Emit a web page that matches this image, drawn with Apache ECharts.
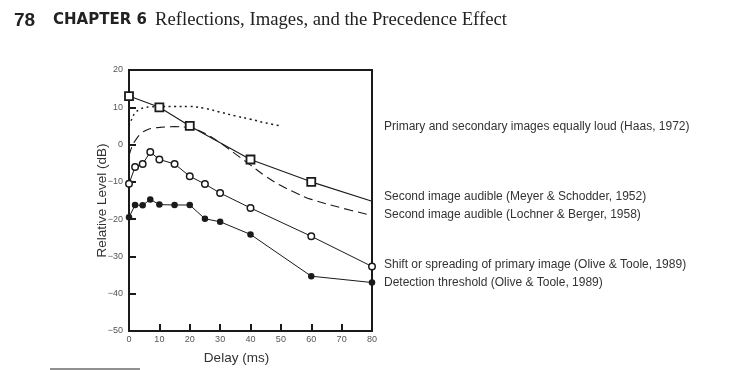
<!DOCTYPE html>
<html>
<head>
<meta charset="utf-8">
<script src="https://cdn.jsdelivr.net/npm/echarts@6/dist/echarts.min.js"></script>
<style>html,body{margin:0;padding:0;background:#fff}#c{width:753px;height:370px}</style>
</head>
<body>
<div id="c"></div>
<script>
// Delay (ms) and relative level (dB)
const squareX = [0, 10, 20, 40, 60, 80];
const squareY = [13, 10, 5, -4, -10, -15.2];
const dottedX = [0, 1, 2, 3.5, 5, 7, 10, 15, 20, 25, 30, 35, 40, 45, 50];
const dottedY = [5, 7, 8.5, 9.4, 9.9, 10.1, 10.2, 10.2, 10.2, 9.7, 8.7, 7.7, 6.8, 5.8, 5];
const dashedX = [0, 1, 2, 4, 6, 8, 10, 15, 20, 25, 30, 35, 40, 45, 50, 55, 60, 70, 80];
const dashedY = [-3, -0.5, 1, 3, 4, 4.4, 4.6, 4.8, 4.5, 3, 0.5, -2.5, -5.5, -8.5, -11, -13, -14.7, -17, -19];
const openX = [0, 2, 4.5, 7, 10, 15, 20, 25, 30, 40, 60, 80];
const openY = [-10.5, -6, -5.2, -2, -4, -5.2, -8.5, -10.6, -13, -17, -24.6, -32.7];
const filledX = [0, 2, 4.5, 7, 10, 15, 20, 25, 30, 40, 60, 80];
const filledY = [-19.5, -16.2, -16.3, -14.7, -16.1, -16.2, -16.2, -19.9, -20.7, -24.1, -35.3, -37];
const yTicks = [20, 10, 0, -10, -20, -30, -40, -50];
const xTicks = [0, 10, 20, 30, 40, 50, 60, 70, 80];
const seriesLabels = [
  'Primary and secondary images equally loud (Haas, 1972)',
  'Second image audible (Meyer & Schodder, 1952)',
  'Second image audible (Lochner & Berger, 1958)',
  'Shift or spreading of primary image (Olive & Toole, 1989)',
  'Detection threshold (Olive & Toole, 1989)'
];

const pair = (xs, ys) => xs.map((x, i) => [x, ys[i]]);
const ink = '#1a1a1a';

const chart = echarts.init(document.getElementById('c'), null, {renderer: 'canvas'});
const squareData = pair(squareX, squareY).map((p, i) =>
  i === squareX.length - 1 ? {value: p, symbol: 'none'} : p);

const labelY = [128, 198, 216, 266, 284];

chart.setOption({
  animation: false,
  backgroundColor: '#fff',
  grid: {left: 129, right: 381, top: 70, bottom: 38, show: true, borderColor: ink, borderWidth: 2},
  xAxis: {
    type: 'value', min: 0, max: 80, interval: 10,
    name: 'Delay (ms)', nameLocation: 'middle', nameGap: 20,
    nameTextStyle: {fontFamily: 'Liberation Sans', fontSize: 13.5, color: '#333', padding: [0, 28, 0, 0]},
    axisLine: {onZero: false, lineStyle: {color: ink, width: 2}},
    axisTick: {inside: true, length: 7, lineStyle: {color: ink, width: 2}},
    axisLabel: {fontFamily: 'Liberation Sans', fontSize: 9, color: '#555', margin: 4},
    splitLine: {show: false}
  },
  yAxis: {
    type: 'value', min: -50, max: 20, interval: 10,
    name: 'Relative Level (dB)', nameLocation: 'middle', nameGap: 20, nameRotate: 90,
    nameMoveOverlap: false,
    nameTextStyle: {fontFamily: 'Liberation Sans', fontSize: 13.5, color: '#333'},
    axisLine: {onZero: false, lineStyle: {color: ink, width: 2}},
    axisTick: {inside: true, length: 7, lineStyle: {color: ink, width: 2}},
    axisLabel: {fontFamily: 'Liberation Sans', fontSize: 9, color: '#555', margin: 6,
      formatter: v => String(v).replace('-', '\u2212')},
    splitLine: {show: false}
  },
  series: [
    {name: seriesLabels[0], type: 'line', data: pair(dottedX, dottedY), smooth: 0.4, showSymbol: false,
      lineStyle: {color: ink, width: 1.5, type: [2, 3.5]}, z: 2},
    {name: seriesLabels[1], type: 'line', data: squareData, symbol: 'rect', symbolSize: 8,
      itemStyle: {color: '#fff', borderColor: ink, borderWidth: 1.8},
      lineStyle: {color: ink, width: 1.1}, z: 3},
    {name: seriesLabels[2], type: 'line', data: pair(dashedX, dashedY), smooth: 0.4, showSymbol: false,
      lineStyle: {color: ink, width: 1.1, type: [9, 5]}, z: 2},
    {name: seriesLabels[3], type: 'line', data: pair(openX, openY), symbol: 'circle', symbolSize: 6.5,
      itemStyle: {color: '#fff', borderColor: ink, borderWidth: 1.5},
      lineStyle: {color: ink, width: 1}, z: 3},
    {name: seriesLabels[4], type: 'line', data: pair(filledX, filledY), symbol: 'circle', symbolSize: 6.5,
      itemStyle: {color: ink, borderColor: ink, borderWidth: 0},
      lineStyle: {color: ink, width: 1}, z: 3}
  ],
  graphic: [
    {type: 'text', left: 14, top: 11, style: {text: '78', font: 'bold 19px "Liberation Sans"', fill: '#222'}},
    {type: 'text', left: 53, top: 13, style: {text: 'CHAPTER 6', font: 'bold 15px "DejaVu Sans"', fill: '#222'}},
    {type: 'text', left: 155, top: 11, style: {text: 'Reflections, Images, and the Precedence Effect', font: '18.7px "Liberation Serif"', fill: '#222'}},
    {type: 'line', shape: {x1: 50, y1: 369, x2: 140, y2: 369}, style: {stroke: '#222', lineWidth: 1}}
  ].concat(seriesLabels.map((t, i) => ({
    type: 'text', left: 384, top: labelY[i] - 7,
    style: {text: t, font: '12px "Liberation Sans"', fill: '#333'}
  })))
});
</script>
</body>
</html>
